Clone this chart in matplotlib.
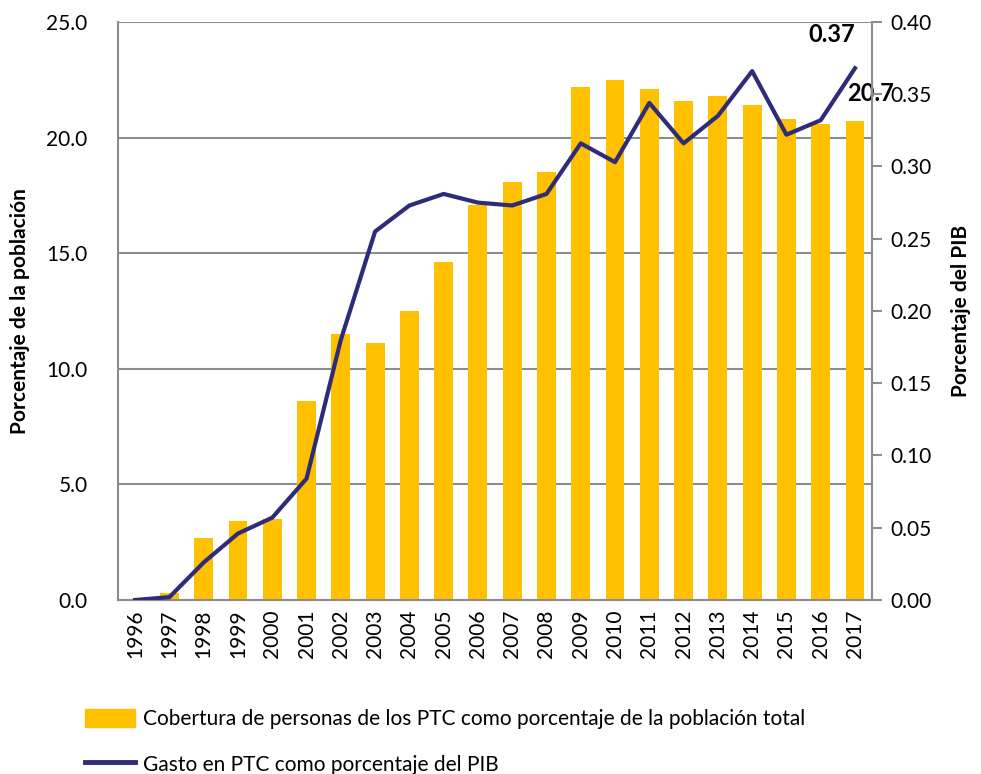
import numpy as np
import matplotlib.pyplot as plt
from matplotlib.patches import Patch
from matplotlib.lines import Line2D

plt.rcParams['font.family'] = ['Lato', 'DejaVu Sans']

anios = [str(a) for a in range(1996, 2018)]
cobertura = [0.0, 0.3, 2.7, 3.4, 3.5, 8.6, 11.5, 11.1, 12.5, 14.6, 17.1, 18.1,
             18.5, 22.2, 22.5, 22.1, 21.6, 21.8, 21.4, 20.8, 20.6, 20.7]
gasto = [0.0, 0.002, 0.026, 0.046, 0.057, 0.084, 0.180, 0.255, 0.273, 0.281,
         0.275, 0.273, 0.281, 0.316, 0.303, 0.344, 0.316, 0.335, 0.366, 0.322,
         0.332, 0.368]

amarillo = '#FFC000'
azul = '#2E2C78'
gris = '#8C8C8C'

fig = plt.figure(figsize=(9.81, 7.74), dpi=100)
ax = fig.add_axes([0.1203, 0.2248, 0.7687, 0.7468])
ax2 = ax.twinx()

x = np.arange(len(anios))
ax.bar(x, cobertura, width=0.55, color=amarillo, zorder=2)
ax.set_ylim(0, 25)
ax.set_yticks(np.arange(0, 25.1, 5))
ax.set_yticklabels([f'{v:.1f}' for v in np.arange(0, 25.1, 5)])
ax.yaxis.grid(True, color=gris, linewidth=1.5, zorder=0)
ax.set_axisbelow(True)
ax.set_xlim(-0.5, len(anios) - 0.5)
ax.set_xticks(x)
ax.set_xticklabels(anios, rotation=90)
ax.tick_params(axis='x', length=0, labelsize=15, pad=7)
ax.tick_params(axis='y', length=0, labelsize=15, pad=22)
ax.set_ylabel('Porcentaje de la población', fontsize=15, fontweight='bold', labelpad=12)

ax2.plot(x, gasto, color=azul, linewidth=3, zorder=3)
ax2.set_ylim(0, 0.40)
ax2.set_yticks(np.arange(0, 0.401, 0.05))
ax2.set_yticklabels([f'{v:.2f}' for v in np.arange(0, 0.401, 0.05)])
ax2.tick_params(axis='y', length=7, width=1.5, color=gris, labelsize=15, pad=6)
ax2.set_ylabel('Porcentaje del PIB', fontsize=15, fontweight='bold', labelpad=14)

for a in (ax, ax2):
    for s in a.spines.values():
        s.set_visible(False)
ax.spines['left'].set_visible(True)
ax.spines['left'].set_color(gris)
ax.spines['left'].set_linewidth(1.5)
ax.spines['bottom'].set_visible(True)
ax.spines['bottom'].set_color(gris)
ax.spines['bottom'].set_linewidth(1.5)
ax2.spines['right'].set_visible(True)
ax2.spines['right'].set_color(gris)
ax2.spines['right'].set_linewidth(1.5)

ax2.annotate(f'{gasto[-1]:.2f}', xy=(x[-1], gasto[-1]), xytext=(0, 16),
             textcoords='offset points', ha='right', va='bottom',
             fontsize=17, fontweight='bold')
ax.annotate(f'{cobertura[-1]:.1f}', xy=(x[-1], cobertura[-1]), xytext=(11, 12),
            textcoords='offset points', ha='center', va='bottom',
            fontsize=17, fontweight='bold')

handles = [Patch(color=amarillo),
           Line2D([], [], color=azul, linewidth=3.5)]
labels = ['Cobertura de personas de los PTC como porcentaje de la población total',
          'Gasto en PTC como porcentaje del PIB']
fig.legend(handles, labels, loc='upper left', bbox_to_anchor=(0.078, 0.095),
           frameon=False, fontsize=15, handlelength=2.4, handleheight=1.0,
           handletextpad=0.4, labelspacing=1.2, borderaxespad=0)

fig.savefig('out.png', dpi=100)
